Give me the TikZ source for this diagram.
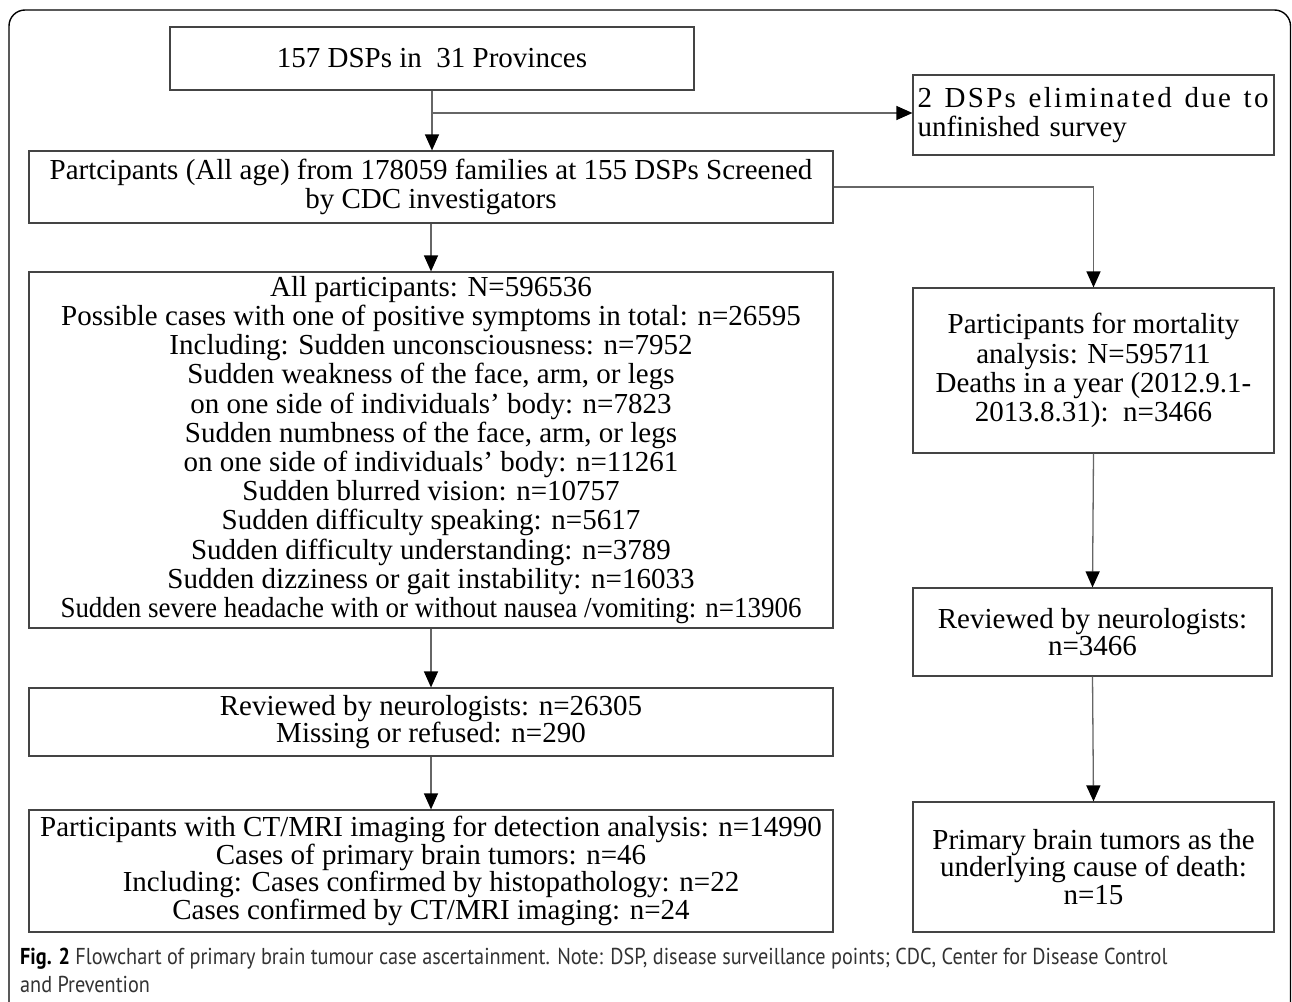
\documentclass[tikz,border=0pt]{standalone}
\usepackage{fontspec}
\usepackage{graphicx}
\setmainfont{Liberation Serif}
\newfontfamily\capfont[FakeStretch=0.88]{PT Sans}
\newfontfamily\spacedfont[LetterSpace=8]{Liberation Serif}
\usetikzlibrary{arrows.meta}
\definecolor{boxc}{HTML}{444444}
\definecolor{linec}{HTML}{666666}
\definecolor{capc}{HTML}{333333}
\begin{document}
\begin{tikzpicture}[x=1pt,y=-1pt,
  box/.style={draw=boxc, line width=1.2pt, inner sep=0pt, align=center, text=black,
    font=\fontsize{29}{29.2}\selectfont},
  tight/.style={font=\fontsize{29}{27.5}\selectfont},
  arr/.style={draw=linec, line width=1.3pt, -{Triangle[width=14pt,length=16pt,color=black]}},
  captext/.style={anchor=base west, inner sep=0pt, text=capc, font=\capfont\fontsize{23}{28}\selectfont}]
\useasboundingbox (0,0) rectangle (1292,1001);
\clip (0,0) rectangle (1292,1001);
\fill[white] (0,0) rectangle (1292,1001);
\draw[line width=1.4pt, rounded corners=16pt] (9,10) rectangle (1290.5,1060);

\node[box, minimum width=524pt, minimum height=63pt] (box1) at (432,58.5) {157 DSPs in\ \ 31 Provinces};
\node[box, minimum width=361pt, minimum height=80pt, text width=352pt, align=left] (box3) at (1093.5,115)
  {\hbox to 351pt{\spacedfont 2\hfil DSPs\hfil eliminated\hfil due\hfil to}\\unfinished survey};
\node[box, minimum width=804pt, minimum height=72pt] (box2) at (431,187)
  {Partcipants (All age) from 178059 families at 155 DSPs Screened\\by CDC investigators};
\node[box, minimum width=361pt, minimum height=165pt] (box4) at (1093.5,370.5)
  {Participants for mortality\\analysis: N=595711\\Deaths in a year (2012.9.1-\\2013.8.31):\ \ n=3466};
\node[box, minimum width=804pt, minimum height=356pt] (box5) at (431,450)
  {All participants: N=596536\\
   Possible cases with one of positive symptoms in total: n=26595\\
   Including: Sudden unconsciousness: n=7952\\
   Sudden weakness of the face, arm, or legs\\
   on one side of individuals’ body: n=7823\\
   Sudden numbness of the face, arm, or legs\\
   on one side of individuals’ body: n=11261\\
   Sudden blurred vision: n=10757\\
   Sudden difficulty speaking: n=5617\\
   Sudden difficulty understanding: n=3789\\
   Sudden dizziness or gait instability: n=16033\\
   \scalebox{0.93}[1]{Sudden severe headache with or without nausea /vomiting: n=13906}};
\node[box, tight, minimum width=804pt, minimum height=68pt] (box6) at (431,722)
  {Reviewed by neurologists: n=26305\\Missing or refused: n=290};
\node[box, tight, minimum width=804pt, minimum height=122pt] (box7) at (431,871)
  {Participants with CT/MRI imaging for detection analysis: n=14990\\
   Cases of primary brain tumors: n=46\\
   Including: Cases confirmed by histopathology: n=22\\
   Cases confirmed by CT/MRI imaging: n=24};
\node[box, tight, minimum width=359pt, minimum height=88pt] (box8) at (1092.5,632)
  {Reviewed by neurologists:\\n=3466};
\node[box, tight, minimum width=361pt, minimum height=130pt] (box9) at (1093.5,867)
  {Primary brain tumors as the\\underlying cause of death:\\n=15};

\coordinate (br) at (432,113);
\draw[arr] (box1.south) -- (box1.south |- box2.north);
\draw[arr] (br) -- (br -| box3.west);
\draw[arr] (box2.east) -| (box4.north);
\draw[arr] (box2.south) -- (box5.north);
\draw[arr] (box5.south) -- (box6.north);
\draw[arr] (box6.south) -- (box7.north);
\draw[arr] (box4.south) -- (box8.north);
\draw[arr] (box8.south) -- (box9.north);

\node[captext] (cap1) at (20,964) {{\bfseries\color{black}Fig. 2} Flowchart of primary brain tumour case ascertainment. Note: DSP, disease surveillance points; CDC, Center for Disease Control};
\node[captext] (cap2) at (20,992) {and Prevention};
\end{tikzpicture}
\end{document}
